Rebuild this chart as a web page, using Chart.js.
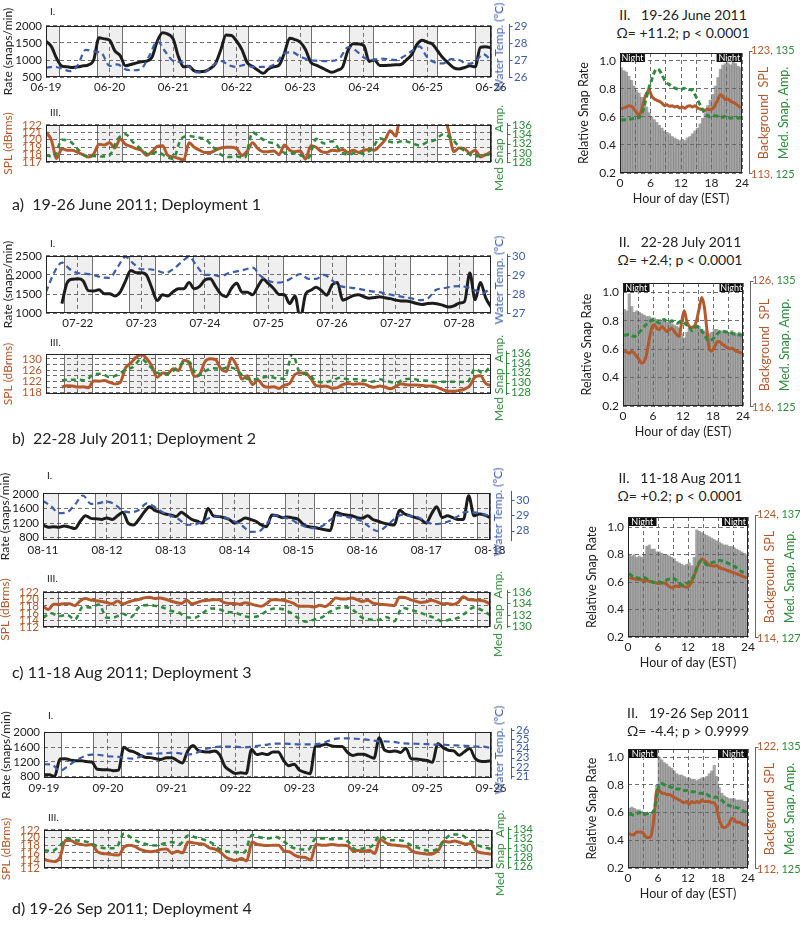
<!DOCTYPE html>
<html>
<head>
<meta charset="utf-8">
<script src="https://cdn.jsdelivr.net/npm/chart.js@4.4.1/dist/chart.umd.min.js"></script>
<style>
  html, body { margin: 0; padding: 0; background: #fff; }
  #fig { position: relative; width: 800px; height: 925px; overflow: hidden; font-family: Lato, "Open Sans", sans-serif; color: #222; }
  #fig canvas { position: absolute; }
  .lbl { position: absolute; white-space: nowrap; line-height: 1; }
</style>
</head>
<body>
<div id="fig"></div>
<script>
// ---- shared axis data ----
const hourTicks = [0, 3, 6, 9, 12, 15, 18, 21, 24];
const hourLabels = [0, 6, 12, 18, 24];
const relTicks = [0.2, 0.4, 0.6, 0.8, 1.0];
const weekHours = [0, 24, 48, 72, 96, 120, 144, 168];

// ---- Deployment 1: 19-26 June 2011 ----
const d1Days = ['06-19', '06-20', '06-21', '06-22', '06-23', '06-24', '06-25', '06-26'];
const d1Night = [[0, 4.8], [19.2, 28.7], [43.1, 52.3], [66.8, 76.1], [90.6, 100], [114.3, 123.6], [138.5, 147.5], [162, 168]];
const d1Rate = [ // every 2 h
  1550, 1400, 1050, 820, 800, 780, 800, 830, 860, 1000, 1650, 1620,
  1580, 1270, 1130, 830, 870, 910, 950, 970, 1080, 1550, 1800, 1760,
  1620, 1100, 800, 820, 680, 660, 670, 750, 900, 1300, 1730, 1720,
  1550, 1300, 920, 810, 700, 610, 740, 800, 850, 1200, 1640, 1600,
  1520, 1300, 930, 850, 780, 700, 640, 700, 800, 1280, 1480, 1470,
  1420, 960, 1000, 840, 840, 850, 860, 870, 1000, 1150, 1450, 1580,
  1520, 1460, 1250, 1050, 900, 770, 740, 780, 830, 800, 1370, 1390,
  1360];
const d1Temp = [ // every 3 h
  26.55, 26.6, 26.5, 26.35, 26.7, 27.6, 27.5, 27.4,
  26.65, 26.75, 26.45, 26.4, 26.5, 27.25, 28.1, 27.5,
  26.95, 26.88, 26.6, 26.28, 26.3, 26.68, 26.95, 26.7,
  26.6, 26.72, 26.6, 26.6, 26.6, 26.85, 27.4, 27.45,
  27.2, 27.02, 26.96, 26.94, 26.95, 27.13, 27.75, 27.55,
  27.15, 27.0, 27.08, 27.06, 27.0, 27.2, 27.52, 27.8,
  27.13, 26.85, 26.8, 27.05, 27.0, 26.78, 26.9, 27.35,
  27.0];
const d1Spl = [ // every 2 h
  121.0, 120.0, 117.5, 118.8, 118.6, 118.6, 118.3, 118.0, 117.7, 118.1, 119.4, 119.3,
  119.6, 118.9, 120.1, 119.4, 119.1, 118.8, 118.6, 117.9, 118.4, 119.1, 119.2, 117.9,
  117.7, 117.5, 117.3, 119.6, 119.0, 118.6, 118.3, 118.3, 118.6, 118.9, 119.0, 119.0,
  118.8, 117.9, 118.5, 119.6, 118.8, 118.4, 118.4, 118.5, 118.0, 119.3, 118.6, 118.4,
  118.5, 117.4, 119.2, 119.0, 118.4, 118.3, 118.6, 118.5, 118.7, 118.3, 118.6, 118.3,
  118.6, 118.7, 118.6, 119.2, 120.0, 121.2, 120.5, 123.5, 123.5, 123.5, 123.5, 123.5,
  123.5, 123.5, 123.5, 123.5, 121.2, 118.4, 118.9, 118.8, 118.2, 118.6, 117.7, 118.0,
  118.4];
const d1Amp = [ // every 3 h
  129.5, 129.1, 132.8, 132.5, 130.8, 129.3, 129.3, 129.2,
  129.5, 132.9, 134.0, 132.2, 130.8, 129.6, 130.2, 129.3,
  128.7, 133.0, 133.6, 133.3, 133.0, 131.3, 129.6, 129.1,
  129.2, 128.9, 134.4, 133.2, 132.3, 131.9, 130.0, 130.0,
  129.5, 128.9, 133.0, 132.0, 132.5, 130.5, 129.6, 130.0,
  129.9, 130.8, 133.1, 132.5, 132.2, 132.6, 132.1, 131.6,
  132.3, 132.8, 134.0, 133.1, 131.3, 130.0, 129.2, 129.5,
  129.6];
const d1DielNight = [[0, 4.9], [19, 24]];
const d1DielRate = [ // half-hourly
  0.95, 0.93, 0.92, 0.89, 0.86, 0.82, 0.79, 0.77, 0.74, 0.70, 0.67, 0.63,
  0.60, 0.58, 0.56, 0.54, 0.52, 0.50, 0.49, 0.48, 0.46, 0.45, 0.44, 0.43,
  0.44, 0.43, 0.45, 0.46, 0.48, 0.50, 0.52, 0.55, 0.59, 0.63, 0.68, 0.72,
  0.76, 0.82, 0.88, 0.94, 0.97, 0.98, 0.99, 0.97, 0.99, 0.98, 0.96, 0.95];
const d1DielSpl = [
  118.33, 118.42, 118.50, 118.61, 118.56, 118.33, 118.06, 117.78, 118.28, 119.11, 119.67, 119.89,
  119.39, 119.17, 119.06, 118.97, 118.83, 118.61, 118.69, 118.56, 118.61, 118.50, 118.56, 118.42,
  118.50, 118.39, 118.56, 118.61, 118.50, 118.61, 118.42, 118.33, 118.28, 118.22, 118.33, 118.28,
  118.39, 118.69, 119.11, 119.53, 119.39, 119.11, 119.17, 118.97, 118.89, 118.78, 118.61, 118.42];
const d1DielAmp = [
  129.39, 129.44, 129.44, 129.50, 129.50, 129.56, 129.58, 129.61, 129.86, 130.56, 131.39, 132.17,
  132.78, 133.39, 133.67, 133.56, 133.19, 132.78, 132.50, 132.36, 132.22, 132.08, 132.00, 131.94,
  132.00, 132.06, 132.00, 131.94, 131.89, 131.53, 131.11, 130.69, 130.28, 129.94, 129.78, 129.67,
  129.72, 129.78, 129.72, 129.61, 129.67, 129.72, 129.67, 129.56, 129.61, 129.67, 129.58, 129.56];

// ---- Deployment 2: 22-28 July 2011 (axis starts 07-21 12:00) ----
const d2Days = ['07-22', '07-23', '07-24', '07-25', '07-26', '07-27', '07-28'];
const d2DayHours = [12, 36, 60, 84, 108, 132, 156];
const d2Night = [[6.7, 17.4], [31.2, 41.3], [55.5, 65.2], [79.4, 89.5], [103.3, 113.4], [127.2, 137.3], [151.4, 161.2]];
const d2Rate = [
  null, null, null, 1250, 1800, 1890, 1900, 1850, 1590, 1580, 1610, 1510,
  1510, 1450, 1550, 1840, 2120, 2060, 2060, 1990, 1650, 1330, 1480, 1450,
  1560, 1640, 1640, 1800, 1640, 1700, 1870, 1900, 1700, 1500, 1430, 1650,
  1780, 1550, 1550, 1480, 1700, 1890, 1770, 1640, 1490, 1480, 1250, 1450,
  850, 1500, 1600, 1680, 1590, 1470, 1740, 1800, 1340, 1390, 1460, 1480,
  1430, 1390, 1410, 1430, 1400, 1380, 1340, 1320, 1320, 1290, 1250, 1225,
  1250, 1260, 1240, 1200, 1160, 1190, 1260, 1300, 2050, 1350, 1800, 1400,
  1160];
const d2Temp = [
  28.1, 29.1, 29.65, 29.3, 29.1, 29.06, 29.0, 28.87,
  28.85, 29.4, 29.95, 29.6, 29.3, 29.3, 29.22, 29.1,
  29.3, 29.65, 29.95, 29.45, 29.0, 29.0, 28.93, 29.1,
  29.19, 29.28, 29.38, 28.95, 28.7, 28.6, 28.65, 28.85,
  29.05, 28.8, 28.8, 29.0, 28.72, 28.42, 28.35, 28.3,
  28.22, 28.14, 28.1, 28.0, 27.92, 27.84, 27.77, 27.68,
  27.75, 28.2, 28.3, 28.38, 28.42, 28.35, 28.2, 28.05,
  28.35];
const d2Spl = [
  null, null, null, 120.0, 120.5, 120.4, 120.0, 120.1, 119.8, 122.2, 122.1, 122.3,
  121.7, 121.1, 121.6, 126.8, 128.5, 130.6, 131.5, 130.2, 127.4, 123.5, 125.0, 124.8,
  126.5, 125.9, 129.5, 128.6, 123.8, 124.5, 129.0, 130.1, 129.8, 126.5, 125.5, 130.3,
  127.5, 122.8, 124.0, 120.8, 122.5, 120.5, 119.9, 120.1, 119.5, 120.7, 121.3, 124.5,
  125.0, 125.0, 123.0, 120.5, 120.3, 120.3, 119.6, 119.8, 120.9, 121.3, 121.0, 121.2,
  121.1, 120.3, 119.9, 120.4, 120.0, 119.4, 120.2, 121.2, 120.8, 120.7, 120.7, 120.6,
  120.4, 120.4, 119.8, 119.0, 118.5, 118.5, 118.8, 119.3, 120.5, 123.6, 124.0, 121.3,
  120.6];
const d2Amp = [
  null, null, 130.5, 130.6, 130.6, 130.5, 131.7, 131.8,
  131.1, 131.6, 132.6, 133.2, 134.8, 133.4, 132.0, 131.7,
  132.4, 133.7, 134.2, 131.3, 132.3, 132.9, 132.8, 133.1,
  132.6, 131.0, 130.6, 130.9, 131.2, 130.9, 130.8, 135.8,
  131.9, 131.7, 130.3, 130.1, 130.4, 131.0, 130.7, 130.7,
  130.5, 130.2, 130.7, 130.3, 130.0, 130.6, 130.8, 130.5,
  130.4, 130.1, 130.2, 130.2, 130.2, 130.1, 132.8, 131.9,
  133.5];
const d2DielNight = [[0, 5.3], [19.3, 24]];
const d2DielRate = [
  0.88, 0.87, 0.99, 0.90, 0.86, 0.87, 0.86, 0.85, 0.84, 0.83, 0.83, 0.82,
  0.82, 0.81, 0.81, 0.80, 0.80, 0.79, 0.79, 0.78, 0.77, 0.76, 0.75, 0.71,
  0.68, 0.72, 0.75, 0.76, 0.77, 0.77, 0.76, 0.74, 0.73, 0.72, 0.71, 0.72,
  0.74, 0.74, 0.73, 0.73, 0.73, 0.72, 0.72, 0.73, 0.72, 0.71, 0.72, 0.71];
const d2DielSpl = [
  120.48, 120.38, 120.29, 120.43, 120.29, 120.02, 119.75, 119.48, 119.61, 120.29, 121.38, 122.33,
  122.60, 122.33, 122.20, 122.47, 122.28, 122.06, 122.20, 122.33, 122.06, 121.79, 121.65, 122.88,
  123.74, 122.88, 122.47, 122.39, 122.47, 123.01, 123.96, 124.83, 124.10, 122.33, 120.70, 120.48,
  120.76, 121.19, 121.24, 121.03, 120.92, 120.76, 120.65, 120.70, 120.57, 120.43, 120.38, 120.27];
const d2DielAmp = [
  130.73, 130.79, 130.84, 130.73, 130.65, 130.79, 131.01, 131.20, 131.47, 131.66, 131.82, 131.98,
  132.04, 131.88, 131.74, 131.93, 132.04, 131.88, 131.82, 131.93, 131.82, 131.71, 131.82, 131.88,
  131.74, 131.60, 131.47, 131.11, 131.28, 131.47, 131.39, 131.11, 130.79, 130.46, 130.30, 130.38,
  130.57, 130.79, 131.01, 131.11, 131.06, 131.01, 131.06, 130.92, 130.84, 130.90, 130.79, 130.73];

// ---- Deployment 3: 11-18 Aug 2011 ----
const d3Days = ['08-11', '08-12', '08-13', '08-14', '08-15', '08-16', '08-17', '08-18'];
const d3Night = [[0, 5.7], [19.4, 29.5], [43.3, 53.6], [67.2, 77.6], [91, 101.7], [115.3, 125.9], [139.1, 149.4], [163.2, 168]];
const d3Rate = [
  1150, 1090, 1100, 1090, 1120, 1090, 1050, 1250, 1400, 1330, 1320, 1300,
  1340, 1300, 1400, 1500, 1200, 1150, 1300, 1500, 1650, 1550, 1500, 1450,
  1420, 1380, 1500, 1400, 1300, 1250, 1200, 1600, 1400, 1380, 1350, 1300,
  1200, 1260, 1340, 1300, 1250, 1150, 1100, 1420, 1400, 1350, 1370, 1340,
  1300, 1150, 1100, 1080, 1050, 1020, 1000, 1500, 1450, 1420, 1400, 1350,
  1330, 1400, 1300, 1250, 1200, 1170, 1150, 1550, 1450, 1400, 1350, 1300,
  1200, 1450, 1650, 1350, 1400, 1350, 1300, 1300, 1950, 1400, 1450, 1420,
  1350];
const d3Temp = [
  29.95, 29.6, 29.15, 29.2, 29.7, 30.3, 29.75, 29.8,
  29.9, 29.72, 29.3, 29.2, 29.35, 29.78, 29.55, 29.2,
  28.97, 28.75, 28.38, 28.4, 28.6, 28.85, 28.94, 28.82,
  28.6, 28.3, 27.92, 27.94, 28.42, 29.0, 28.88, 28.75,
  28.45, 28.24, 28.16, 28.3, 28.7, 29.0, 28.9, 28.78,
  28.6, 28.2, 27.96, 28.3, 28.75, 29.05, 28.96, 28.88,
  28.58, 28.42, 28.48, 28.65, 28.95, 29.23, 29.2, 29.1,
  28.95];
const d3Spl = [
  117.9, 117.0, 118.5, 118.5, 118.6, 118.6, 118.1, 119.5, 120.1, 119.7, 119.5, 119.3,
  119.0, 118.6, 119.4, 118.6, 119.1, 119.6, 119.8, 120.3, 120.5, 120.1, 120.3, 119.9,
  119.4, 119.0, 118.7, 119.6, 118.6, 119.0, 119.5, 119.6, 119.8, 119.8, 119.0, 118.7,
  118.7, 118.5, 118.9, 118.6, 118.2, 117.9, 118.7, 119.8, 119.8, 119.6, 119.3, 118.8,
  118.0, 117.9, 117.9, 117.7, 118.2, 117.8, 118.8, 120.3, 120.0, 120.0, 120.3, 119.8,
  119.3, 119.6, 118.8, 118.6, 118.4, 118.3, 118.1, 120.5, 120.4, 119.8, 119.4, 119.0,
  119.2, 119.6, 119.2, 118.6, 118.7, 118.4, 119.0, 120.6, 119.8, 119.7, 119.6, 119.4,
  118.5];
const d3Amp = [
  131.5, 132.3, 131.8, 132.0, 131.2, 133.4, 133.3, 133.8,
  131.5, 131.6, 132.2, 131.6, 133.3, 133.7, 133.6, 133.3,
  132.7, 132.4, 131.6, 131.5, 132.3, 133.1, 133.0, 132.5,
  132.4, 131.9, 131.6, 131.8, 132.6, 133.1, 133.0, 132.4,
  131.4, 130.8, 131.2, 131.6, 132.6, 133.2, 133.3, 132.7,
  131.5, 131.2, 131.1, 131.6, 130.9, 133.2, 132.9, 132.5,
  132.0, 131.5, 130.9, 131.2, 131.5, 132.4, 133.3, 132.8,
  132.0];
const d3DielNight = [[0, 5.7], [18.8, 24]];
const d3DielRate = [
  0.80, 0.79, 0.80, 0.78, 0.79, 0.78, 0.80, 0.86, 0.87, 0.84, 0.84, 0.82,
  0.82, 0.81, 0.80, 0.80, 0.79, 0.78, 0.77, 0.75, 0.74, 0.73, 0.72, 0.73,
  0.74, 0.72, 0.78, 0.98, 0.97, 0.96, 0.95, 0.94, 0.93, 0.92, 0.91, 0.90,
  0.89, 0.88, 0.87, 0.87, 0.86, 0.86, 0.85, 0.84, 0.83, 0.82, 0.81, 0.80];
const d3DielSpl = [
  118.95, 118.90, 118.85, 118.80, 118.80, 118.75, 118.70, 118.70, 118.65, 118.60, 118.55, 118.50,
  118.45, 118.55, 118.50, 118.40, 118.20, 118.10, 118.20, 118.25, 118.20, 118.30, 118.20, 118.15,
  118.30, 118.60, 119.10, 119.70, 120.20, 120.50, 120.40, 120.20, 120.00, 119.95, 119.90, 119.95,
  119.80, 119.70, 119.65, 119.55, 119.50, 119.40, 119.35, 119.25, 119.20, 119.10, 119.00, 118.95];
const d3DielAmp = [
  132.30, 132.10, 132.00, 131.95, 131.90, 132.00, 131.95, 131.85, 131.75, 131.60, 131.55, 131.55,
  131.60, 131.50, 131.60, 131.75, 131.85, 131.90, 131.85, 131.70, 131.50, 131.35, 131.30, 131.45,
  131.60, 131.80, 132.20, 132.80, 133.20, 133.35, 133.25, 133.00, 133.10, 133.20, 133.25, 133.35,
  133.40, 133.35, 133.30, 133.20, 133.10, 133.00, 132.90, 132.75, 132.60, 132.45, 132.35, 132.30];

// ---- Deployment 4: 19-26 Sep 2011 ----
const d4Days = ['09-19', '09-20', '09-21', '09-22', '09-23', '09-24', '09-25', '09-26'];
const d4Night = [[0, 6.5], [18.4, 28.9], [42.7, 54.3], [66.5, 78.1], [90.2, 101.9], [114.1, 126], [138.2, 150.1], [162, 168]];
const d4Rate = [
  855, 850, 810, 1280, 1290, 1250, 1236, 1236, 1210, 1200, 1000, 990,
  990, 965, 980, 1600, 1510, 1470, 1390, 1330, 1318, 1290, 1270, 1318,
  1318, 1240, 1170, 1500, 1650, 1510, 1480, 1470, 1500, 1400, 1080, 964,
  890, 905, 890, 1537, 1400, 1428, 1400, 1470, 1470, 1250, 1100, 1140,
  980, 920, 882, 1620, 1650, 1680, 1640, 1618, 1618, 1470, 1373, 1410,
  1410, 1360, 1300, 1860, 1520, 1480, 1500, 1460, 1570, 1290, 1280, 1260,
  1240, 1190, 1700, 1590, 1520, 1500, 1380, 1480, 1564, 1300, 1220, 1215,
  1236];
const d4Temp = [
  22.3, 22.25, 21.6, 22.1, 22.7, 23.15, 23.35, 23.3,
  23.15, 23.13, 23.0, 22.9, 23.1, 23.45, 23.46, 23.48,
  23.56, 23.48, 23.35, 23.5, 23.9, 24.1, 24.2, 24.2,
  24.2, 24.12, 24.18, 24.33, 24.43, 24.54, 24.54, 24.5,
  24.45, 24.44, 24.46, 24.6, 24.95, 25.1, 25.1, 25.06,
  25.0, 24.9, 24.78, 24.76, 24.7, 24.55, 24.54, 24.5,
  24.48, 24.43, 24.42, 24.35, 24.33, 24.28, 24.22, 24.2,
  24.05];
const d4Spl = [
  114.3, 113.9, 113.7, 114.8, 119.2, 119.2, 118.5, 118.2, 118.0, 118.2, 116.3, 115.8,
  115.7, 115.5, 115.4, 117.5, 118.0, 117.7, 116.9, 116.5, 116.3, 116.5, 116.9, 117.0,
  115.9, 116.4, 116.0, 118.8, 118.6, 118.4, 118.2, 117.3, 117.0, 116.2, 115.0, 114.3,
  114.0, 114.5, 113.9, 118.8, 118.2, 118.0, 117.9, 118.0, 118.0, 116.5, 116.3, 115.4,
  114.9, 114.8, 114.1, 118.2, 118.0, 118.0, 118.2, 118.0, 118.0, 117.8, 116.5, 116.6,
  116.4, 116.7, 115.8, 119.5, 118.7, 118.1, 118.0, 117.8, 117.7, 116.5, 116.0, 115.8,
  115.6, 115.8, 116.8, 119.0, 118.8, 119.1, 118.7, 118.3, 118.4, 116.5, 116.0, 115.8,
  115.6];
const d4Amp = [
  129.5, 129.3, 130.5, 132.0, 131.6, 131.4, 130.9, 130.1,
  129.9, 130.0, 133.0, 132.0, 131.1, 130.7, 130.5, 130.9,
  131.2, 130.8, 132.6, 132.2, 131.7, 131.0, 129.7, 129.2,
  129.1, 129.0, 132.7, 132.2, 132.0, 132.3, 131.3, 130.1,
  129.7, 129.6, 132.0, 132.0, 131.8, 132.0, 131.3, 129.6,
  129.9, 130.4, 132.5, 131.6, 131.6, 131.4, 130.4, 129.9,
  129.4, 129.6, 131.6, 132.8, 132.8, 131.8, 130.7, 130.1,
  129.7];
const d4DielNight = [[0, 5.9], [18, 24]];
const d4DielRate = [
  0.63, 0.64, 0.63, 0.62, 0.62, 0.61, 0.60, 0.60, 0.59, 0.60, 0.62, 0.80,
  1.00, 0.98, 0.96, 0.95, 0.93, 0.92, 0.90, 0.88, 0.87, 0.87, 0.86, 0.85,
  0.85, 0.84, 0.84, 0.83, 0.84, 0.85, 0.85, 0.86, 0.88, 0.90, 0.94, 0.86,
  0.78, 0.74, 0.72, 0.71, 0.70, 0.70, 0.70, 0.69, 0.69, 0.69, 0.68, 0.68];
const d4DielSpl = [
  114.91, 114.80, 114.80, 115.03, 115.03, 115.03, 114.80, 114.56, 114.56, 114.91, 116.43, 118.52,
  118.52, 118.29, 118.29, 118.17, 118.17, 118.06, 117.94, 117.83, 117.71, 117.59, 117.48, 117.59,
  117.36, 117.59, 117.48, 117.59, 117.48, 117.71, 117.59, 117.59, 117.59, 117.48, 117.48, 117.01,
  116.08, 115.50, 115.38, 115.50, 115.73, 116.19, 116.08, 115.84, 115.84, 115.73, 115.61, 115.61];
const d4DielAmp = [
  129.54, 129.49, 129.43, 129.54, 129.66, 129.54, 129.49, 129.54, 129.66, 129.66, 129.89, 131.06,
  131.99, 132.11, 131.99, 131.87, 131.87, 131.76, 131.76, 131.64, 131.64, 131.52, 131.52, 131.52,
  131.41, 131.41, 131.41, 131.35, 131.29, 131.29, 131.17, 131.17, 131.06, 131.06, 130.94, 130.94,
  130.83, 130.71, 130.48, 130.36, 130.24, 130.18, 130.13, 130.07, 130.01, 129.89, 129.78, 129.66];

// ---- drawing ----
const fig = document.getElementById('fig');
Chart.defaults.font.family = 'Lato, "Open Sans", sans-serif';
Chart.defaults.color = '#222';

const BLACK = '#1c1c1c', BLUE = '#3d5dab', BROWN = '#b4592c', GREEN = '#2e8b3b';
const GRID = '#4d4d4d', BAR = 'rgba(100,100,100,0.58)';

const pts = (vals, step, start = 0) => vals.map((v, i) => ({x: start + i * step, y: v}));

function addCanvas(l, t, w, h) {
  const c = document.createElement('canvas');
  c.width = w; c.height = h;
  c.style.left = l + 'px'; c.style.top = t + 'px';
  fig.appendChild(c);
  return c;
}

function text(html, x, y, o = {}) {
  const d = document.createElement('div');
  d.className = 'lbl';
  d.innerHTML = html;
  d.style.left = x + 'px';
  d.style.top = y + 'px';
  d.style.fontSize = (o.size || 12) + 'px';
  d.style.color = o.color || '#222';
  let tf = o.left ? 'translate(0,-50%)' : 'translate(-50%,-50%)';
  if (o.rot) tf += ' rotate(-90deg)';
  d.style.transform = tf;
  fig.appendChild(d);
}

// night bands, plot frame, offset right axis, "Night" tags
const frame = {
  id: 'frame',
  beforeDraw(chart, args, o) {
    const {ctx, chartArea: a} = chart;
    const x = chart.scales.x;
    ctx.save();
    (o.bands || []).forEach(([s, e]) => {
      const x0 = Math.round(x.getPixelForValue(s)), x1 = Math.round(x.getPixelForValue(e));
      ctx.fillStyle = '#efefef';
      ctx.fillRect(x0, a.top, x1 - x0, a.bottom - a.top);
      ctx.strokeStyle = '#707070';
      ctx.lineWidth = 1;
      ctx.beginPath();
      [x0, x1].forEach(px => { ctx.moveTo(px + 0.5, a.top); ctx.lineTo(px + 0.5, a.bottom); });
      ctx.stroke();
    });
    ctx.restore();
  },
  afterDatasetsDraw(chart, args, o) {
    const {ctx, chartArea: a} = chart;
    const x = chart.scales.x;
    ctx.save();
    (o.night || []).forEach(([s, e]) => {
      const x0 = x.getPixelForValue(s), x1 = x.getPixelForValue(e);
      ctx.fillStyle = '#111';
      ctx.fillRect(x0, a.top, x1 - x0, 9);
      ctx.fillStyle = '#fff';
      ctx.font = '9px Lato, sans-serif';
      ctx.textAlign = 'center';
      ctx.textBaseline = 'middle';
      ctx.fillText('Night', (x0 + x1) / 2, a.top + 5);
    });
    ctx.strokeStyle = '#222';
    ctx.lineWidth = 1;
    const l = Math.round(a.left) + 0.5, t = Math.round(a.top) + 0.5;
    ctx.strokeRect(l, t, Math.round(a.right) - 1 - l + 0.5, Math.round(a.bottom) - 1 - t + 0.5);
    if (o.gap) {
      const s = o.axisId ? chart.scales[o.axisId] : null;
      let top = a.top, bot = a.bottom;
      if (s) s.ticks.forEach(tk => { const p = s.getPixelForValue(tk.value); top = Math.min(top, p); bot = Math.max(bot, p); });
      const ax = Math.round(a.right + o.gap) + 0.5;
      ctx.strokeStyle = o.axisColor;
      ctx.beginPath();
      ctx.moveTo(ax, top - 2);
      ctx.lineTo(ax, bot + 1);
      if (s) {
        s.ticks.forEach(tk => { const p = Math.round(s.getPixelForValue(tk.value)) + 0.5; ctx.moveTo(ax, p); ctx.lineTo(ax + 3, p); });
      } else {
        ctx.moveTo(ax, top - 1.5); ctx.lineTo(ax + 3, top - 1.5);
        ctx.moveTo(ax, bot + 0.5); ctx.lineTo(ax + 3, bot + 0.5);
      }
      ctx.stroke();
    }
    ctx.restore();
  }
};

const lineBase = {pointRadius: 0, fill: false, cubicInterpolationMode: 'monotone', clip: 0, spanGaps: false};
const gridOpts = {color: GRID, lineWidth: 0.8, drawTicks: false};

function timeChart(o) {
  const [L, T, R, B] = o.box;
  const pl = 46, pr = 48, pt = 12, pb = o.days ? 22 : 4;
  const cv = addCanvas(L - pl, T - pt, R - L + pl + pr, B - T + pt + pb);
  new Chart(cv, {
    type: 'line',
    data: {datasets: [
      Object.assign({data: pts(o.right, o.rightStep), yAxisID: 'y1', borderColor: o.rightColor, borderWidth: o.rightWidth, borderDash: o.rightDash}, lineBase),
      Object.assign({data: pts(o.left, o.leftStep), yAxisID: 'y', borderColor: o.leftColor, borderWidth: 3}, lineBase)
    ]},
    options: {
      responsive: false, animation: false, devicePixelRatio: 1,
      layout: {padding: {top: pt, left: 0, right: 0, bottom: 0}},
      plugins: {legend: {display: false}, tooltip: {enabled: false},
        frame: {bands: o.bands, gap: o.gap, axisId: 'y1', axisColor: o.rightColor}},
      scales: {
        x: {type: 'linear', min: 0, max: 168, offset: false,
          afterBuildTicks: s => { s.ticks = o.dayHours.map(v => ({value: v})); },
          afterFit: s => { s.height = pb; },
          grid: gridOpts, border: {display: false, dash: [4, 3]},
          ticks: {display: !!o.days, padding: 3, maxRotation: 0, autoSkip: false, color: '#222', font: {size: 11.5},
            callback: (v, i) => o.days ? o.days[i] : ''}},
        y: {min: o.leftRange[0], max: o.leftRange[1],
          afterBuildTicks: s => { s.ticks = o.leftTicks.map(v => ({value: v})); },
          afterFit: s => { s.width = pl; },
          grid: gridOpts, border: {display: false, dash: [4, 3]},
          ticks: {padding: 4, autoSkip: false, color: o.leftTickColor, font: {size: 11.5},
            callback: v => (o.leftLabels || o.leftTicks).includes(v) ? String(v) : ''},
          title: {display: true, text: o.leftTitle, color: o.leftTickColor, font: {size: 12}, padding: {top: 1, bottom: 2}}},
        y1: {position: 'right', min: o.rightRange[0], max: o.rightRange[1],
          afterBuildTicks: s => { s.ticks = o.rightTicks.map(v => ({value: v})); },
          afterFit: s => { s.width = pr; },
          grid: {drawOnChartArea: false, drawTicks: false}, border: {display: false},
          ticks: {padding: o.gap + 5, autoSkip: false, color: o.rightColor, font: {size: 11.5}}}
      }
    },
    plugins: [frame]
  });
  text(o.tag, L + 4, T + 3, {size: 10, left: true});
  text(o.rightTitle, R + 8, (T + B) / 2, {size: 12, color: o.rightColor, rot: true});
}

function dielChart(o) {
  const [L, T, R, B] = o.box;
  const pl = 44, pr = 14, pt = 12, pb = 34;
  const cv = addCanvas(L - pl, T - pt, R - L + pl + pr, B - T + pt + pb);
  new Chart(cv, {
    type: 'bar',
    data: {datasets: [
      Object.assign({type: 'line', data: pts(o.amp, 0.5, 0.25), yAxisID: 'yAmp', borderColor: GREEN, borderWidth: 3, borderDash: [5, 3]}, lineBase),
      Object.assign({type: 'line', data: pts(o.spl, 0.5, 0.25), yAxisID: 'ySpl', borderColor: BROWN, borderWidth: 3}, lineBase),
      {type: 'bar', data: pts(o.rate, 0.5, 0.25), yAxisID: 'y', backgroundColor: BAR, borderWidth: 0, barPercentage: 1, categoryPercentage: 1}
    ]},
    options: {
      responsive: false, animation: false, devicePixelRatio: 1,
      layout: {padding: {top: pt, left: 0, right: pr, bottom: 0}},
      plugins: {legend: {display: false}, tooltip: {enabled: false},
        frame: {night: o.night, gap: 7, axisColor: '#666'}},
      scales: {
        x: {type: 'linear', min: 0, max: 24, offset: false,
          afterBuildTicks: s => { s.ticks = hourTicks.map(v => ({value: v})); },
          afterFit: s => { s.height = pb; },
          grid: Object.assign({offset: false}, gridOpts), border: {display: false, dash: [4, 3]},
          ticks: {padding: 3, maxRotation: 0, autoSkip: false, color: '#222', font: {size: 12},
            callback: v => hourLabels.includes(v) ? String(v) : ''},
          title: {display: true, text: 'Hour of day (EST)', color: '#222', font: {size: 12.5}, padding: {top: 1, bottom: 1}}},
        y: {min: 0.2, max: o.yMax,
          afterBuildTicks: s => { s.ticks = relTicks.map(v => ({value: v})); },
          afterFit: s => { s.width = pl; },
          grid: gridOpts, border: {display: false, dash: [4, 3]},
          ticks: {padding: 4, autoSkip: false, color: '#222', font: {size: 12}, callback: v => v.toFixed(1)},
          title: {display: true, text: 'Relative Snap Rate', color: '#222', font: {size: 12.5}, padding: {top: 0, bottom: 2}}},
        ySpl: {display: false, min: o.splRange[0], max: o.splRange[1]},
        yAmp: {display: false, min: o.ampRange[0], max: o.ampRange[1]}
      }
    },
    plugins: [frame]
  });
  const c = `<span style="color:${BROWN}">`, g = `<span style="color:${GREEN}">`;
  text(`${c}${o.splRange[1]},</span> ${g}${o.ampRange[1]}</span>`, R + 9, T - 4, {size: 11, left: true});
  text(`${c}${o.splRange[0]},</span> ${g}${o.ampRange[0]}</span>`, R + 9, B, {size: 11, left: true});
  text('Background&nbsp; SPL', R + 22, (T + B) / 2, {size: 12.5, color: BROWN, rot: true});
  text('Med. Snap. Amp.', R + 42, (T + B) / 2, {size: 12.5, color: GREEN, rot: true});
  text(o.title, o.cx, o.ty, {size: 14});
  text(o.stat, o.cx, o.ty + 18, {size: 14});
}

function deployment(p) {
  timeChart({box: p.box1, tag: 'I.', days: p.days, dayHours: p.dayHours, bands: p.night,
    left: p.rate, leftStep: 2, leftColor: BLACK, leftTickColor: '#222', leftRange: p.rateRange, leftTicks: p.rateTicks,
    leftTitle: 'Rate (snaps/min)',
    right: p.temp, rightStep: 3, rightColor: BLUE, rightWidth: 2.2, rightDash: [6, 4], rightRange: p.tempRange, rightTicks: p.tempTicks,
    rightTitle: 'Water Temp. (ºC)', gap: p.gap1});
  timeChart({box: p.box3, tag: 'III.', days: null, dayHours: p.dayHours, bands: p.night,
    left: p.spl, leftStep: 2, leftColor: BROWN, leftTickColor: BROWN, leftRange: p.splRange, leftTicks: p.splTicks, leftLabels: p.splLabels,
    leftTitle: 'SPL (dBrms)',
    right: p.amp, rightStep: 3, rightColor: GREEN, rightWidth: 2.6, rightDash: [5, 4], rightRange: p.ampRange, rightTicks: p.ampTicks,
    rightTitle: 'Med Snap&nbsp; Amp.', gap: p.gap3});
  dielChart(p.diel);
  text(p.caption, 12, p.capY, {size: 16, left: true});
}

deployment({
  box1: [46, 8, 491, 85], box3: [46, 109, 491, 186], gap1: 18, gap3: 16,
  days: d1Days, dayHours: weekHours, night: d1Night,
  rate: d1Rate, rateRange: [500, 2000], rateTicks: [500, 1000, 1500, 2000],
  temp: d1Temp, tempRange: [26, 29], tempTicks: [26, 27, 28, 29],
  spl: d1Spl, splRange: [117, 122], splTicks: [117, 118, 119, 120, 121, 122],
  amp: d1Amp, ampRange: [128, 136], ampTicks: [128, 130, 132, 134, 136],
  caption: 'a)&nbsp; 19-26 June 2011; Deployment 1', capY: 204,
  diel: {box: [620, 53, 742, 173], yMax: 1.055, night: d1DielNight, rate: d1DielRate, spl: d1DielSpl, amp: d1DielAmp,
    splRange: [113, 123], ampRange: [125, 135], title: 'II.&nbsp;&nbsp; 19-26 June 2011', stat: 'Ω= +11.2; p &lt; 0.0001', cx: 683, ty: 15}
});
deployment({
  box1: [46, 240, 491, 319], box3: [46, 339, 491, 417], gap1: 16, gap3: 15,
  days: d2Days, dayHours: d2DayHours, night: d2Night,
  rate: d2Rate, rateRange: [1000, 2500], rateTicks: [1000, 1500, 2000, 2500],
  temp: d2Temp, tempRange: [27, 30], tempTicks: [27, 28, 29, 30],
  spl: d2Spl, splRange: [117.5, 131.8], splTicks: [118, 120, 122, 124, 126, 128, 130], splLabels: [118, 122, 126, 130],
  amp: d2Amp, ampRange: [127.7, 135.8], ampTicks: [128, 130, 132, 134, 136],
  caption: 'b)&nbsp; 22-28 July 2011; Deployment 2', capY: 438,
  diel: {box: [623, 283, 743, 406], yMax: 1.066, night: d2DielNight, rate: d2DielRate, spl: d2DielSpl, amp: d2DielAmp,
    splRange: [116, 126], ampRange: [125, 135], title: 'II.&nbsp;&nbsp; 22-28 July 2011', stat: 'Ω= +2.4; p &lt; 0.0001', cx: 680, ty: 242}
});
deployment({
  box1: [43, 472, 490, 551], box3: [43, 575, 490, 652], gap1: 21, gap3: 17,
  days: d3Days, dayHours: weekHours, night: d3Night,
  rate: d3Rate, rateRange: [735, 2027], rateTicks: [800, 1200, 1600, 2000],
  temp: d3Temp, tempRange: [27.38, 30.47], tempTicks: [28, 29, 30],
  spl: d3Spl, splRange: [112, 122], splTicks: [112, 114, 116, 118, 120, 122],
  amp: d3Amp, ampRange: [129.87, 136], ampTicks: [130, 132, 134, 136],
  caption: 'c) 11-18 Aug 2011; Deployment 3', capY: 672,
  diel: {box: [628, 517, 748, 637], yMax: 1.074, night: d3DielNight, rate: d3DielRate, spl: d3DielSpl, amp: d3DielAmp,
    splRange: [114, 124], ampRange: [127, 137], title: 'II.&nbsp;&nbsp; 11-18 Aug 2011', stat: 'Ω= +0.2; p &lt; 0.0001', cx: 680, ty: 478}
});
deployment({
  box1: [44, 712, 491, 788], box3: [44, 814, 492, 892], gap1: 20, gap3: 16,
  days: d4Days, dayHours: weekHours, night: d4Night,
  rate: d4Rate, rateRange: [762, 2017], rateTicks: [800, 1200, 1600, 2000],
  temp: d4Temp, tempRange: [20.8, 25.8], tempTicks: [21, 22, 23, 24, 25, 26],
  spl: d4Spl, splRange: [112, 122], splTicks: [112, 114, 116, 118, 120, 122],
  amp: d4Amp, ampRange: [125.72, 133.78], ampTicks: [126, 128, 130, 132, 134],
  caption: 'd) 19-26 Sep 2011; Deployment 4', capY: 908,
  diel: {box: [628, 749, 748, 868], yMax: 1.058, night: d4DielNight, rate: d4DielRate, spl: d4DielSpl, amp: d4DielAmp,
    splRange: [112, 122], ampRange: [125, 135], title: 'II.&nbsp;&nbsp; 19-26 Sep 2011', stat: 'Ω= -4.4; p &gt; 0.9999', cx: 688, ty: 713}
});
</script>
</body>
</html>
